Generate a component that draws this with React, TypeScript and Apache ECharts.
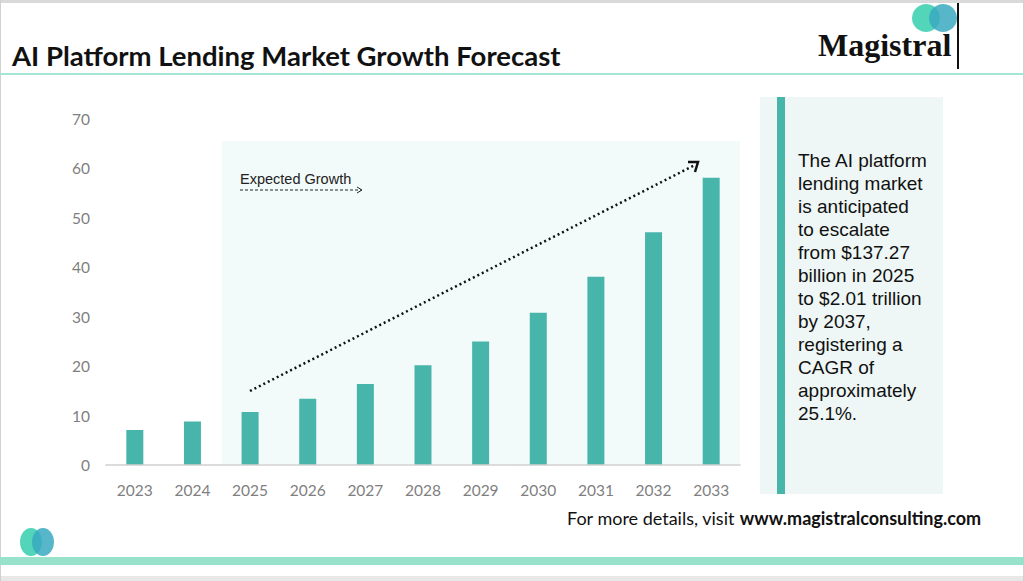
import React, { useEffect, useRef } from "react";
import * as echarts from "echarts";

const years = ["2023", "2024", "2025", "2026", "2027", "2028", "2029", "2030", "2031", "2032", "2033"];
const values = [7.1, 8.8, 10.7, 13.4, 16.4, 20.2, 25.0, 30.8, 38.1, 47.1, 58.1];
const yTicks = { min: 0, max: 70, interval: 10 };

const title = "AI Platform Lending Market Growth Forecast";
const panelLines = [
  "The AI platform",
  "lending market",
  "is anticipated",
  "to escalate",
  "from $137.27",
  "billion in 2025",
  "to $2.01 trillion",
  "by 2037,",
  "registering a",
  "CAGR of",
  "approximately",
  "25.1%.",
];

export default function App() {
  const ref = useRef<HTMLDivElement>(null);
  useEffect(() => {
    if (!ref.current) return;
    const chart = echarts.init(ref.current, null, { renderer: "svg" });
    const teal = "#48b5ab";
    chart.setOption({
      animation: false,
      backgroundColor: "#ffffff",
      grid: { left: 106, right: 284, top: 119, bottom: 116 },
      xAxis: {
        type: "category",
        data: years,
        z: 10,
        axisLine: { lineStyle: { color: "#d0d0d0", width: 1.5 } },
        axisTick: { show: false },
        axisLabel: { color: "#7f7f7f", fontSize: 15.5, fontFamily: "Lato", margin: 17 },
      },
      yAxis: {
        type: "value",
        min: yTicks.min,
        max: yTicks.max,
        interval: yTicks.interval,
        splitLine: { show: false },
        axisLine: { show: false },
        axisTick: { show: false },
        axisLabel: { color: "#7f7f7f", fontSize: 15.5, fontFamily: "Lato", margin: 16 },
      },
      series: [
        {
          type: "bar",
          data: values,
          barWidth: 17,
          itemStyle: { color: teal },
          z: 5,
          markArea: {
            silent: true,
            itemStyle: { color: "#f3fafa" },
            data: [[{ x: 222, y: 141 }, { x: 740, y: 464 }]],
          },
        },
      ],
      graphic: [
        // frame
        { type: "rect", z: 20, shape: { x: 0, y: 0, width: 1024, height: 3 }, style: { fill: "#d9d9d9" } },
        { type: "rect", z: 20, shape: { x: 0, y: 576, width: 1024, height: 5 }, style: { fill: "#e8e8e8" } },
        { type: "rect", z: 20, shape: { x: 0, y: 0, width: 1, height: 581 }, style: { fill: "#d0d0d0" } },
        { type: "rect", z: 20, shape: { x: 1023, y: 0, width: 1, height: 581 }, style: { fill: "#d0d0d0" } },
        // title
        {
          type: "text",
          z: 20,
          left: 12,
          top: 41,
          style: { text: title, fontSize: 27.5, fontWeight: "bold", fontFamily: "Lato", fill: "#111111" },
        },
        { type: "rect", z: 20, shape: { x: 0, y: 73, width: 1024, height: 2 }, style: { fill: "#a8e4d4" } },
        // logo top
        { type: "circle", z: 20, shape: { cx: 926, cy: 18, r: 14 }, style: { fill: "#3fd0b0", opacity: 0.9 } },
        { type: "circle", z: 20, shape: { cx: 943, cy: 18, r: 14 }, style: { fill: "#3aa9c0", opacity: 0.85 } },
        { type: "rect", z: 20, shape: { x: 957, y: 3, width: 2, height: 66 }, style: { fill: "#111111" } },
        {
          type: "text",
          z: 20,
          left: 818,
          top: 29,
          style: { text: "Magistral", fontSize: 32, fontWeight: "bold", fontFamily: "Liberation Serif", fill: "#111111" },
        },
        // growth annotation
        {
          type: "text",
          z: 20,
          left: 240,
          top: 171,
          style: { text: "Expected Growth", fontSize: 14.5, fontFamily: "Liberation Sans", fill: "#222222" },
        },
        { type: "line", z: 20, shape: { x1: 240, y1: 190, x2: 361, y2: 190 }, style: { stroke: "#222", lineWidth: 1, lineDash: [3, 2] } },
        { type: "polyline", z: 20, shape: { points: [[357, 187], [362, 190], [357, 193]] }, style: { stroke: "#222", lineWidth: 1, fill: "none" } },
        { type: "line", z: 20, shape: { x1: 250, y1: 391, x2: 695, y2: 165 }, style: { stroke: "#111", lineWidth: 2.5, lineDash: [2, 3] } },
        { type: "polyline", z: 20, shape: { points: [[688, 162], [698, 162], [695, 172]] }, style: { stroke: "#111", lineWidth: 2.5, fill: "none" } },
        // right panel
        { type: "rect", z: 20, shape: { x: 760, y: 97, width: 183, height: 397 }, style: { fill: "#eef7f5" } },
        { type: "rect", z: 20, shape: { x: 777, y: 97, width: 8, height: 397 }, style: { fill: teal } },
        {
          type: "text",
          z: 21,
          left: 798,
          top: 149,
          style: {
            text: panelLines.join("\n"),
            fontSize: 19,
            lineHeight: 23,
            fontFamily: "Liberation Sans",
            fill: "#111111",
          },
        },
        // footer
        {
          type: "text",
          z: 20,
          left: 567,
          top: 509,
          style: {
            text: "{a|For more details, visit }{b|www.magistralconsulting.com}",
            rich: {
              a: { fontSize: 18, fontFamily: "Lato", fill: "#111111" },
              b: { fontSize: 18, fontFamily: "Lato", fontWeight: "bold", fill: "#111111" },
            },
          },
        },
        { type: "ellipse", z: 20, shape: { cx: 31, cy: 542, rx: 11, ry: 14 }, style: { fill: "#3fd0b0", opacity: 0.9 } },
        { type: "ellipse", z: 20, shape: { cx: 43, cy: 542, rx: 11, ry: 14 }, style: { fill: "#3aa9c0", opacity: 0.85 } },
        { type: "rect", z: 20, shape: { x: 0, y: 557, width: 1024, height: 8 }, style: { fill: "#98e2cc" } },
      ],
    });
    return () => chart.dispose();
  }, []);
  return (
    <div
      ref={ref}
      style={{ position: "fixed", left: 0, top: 0, width: 1024, height: 581 }}
    />
  );
}
